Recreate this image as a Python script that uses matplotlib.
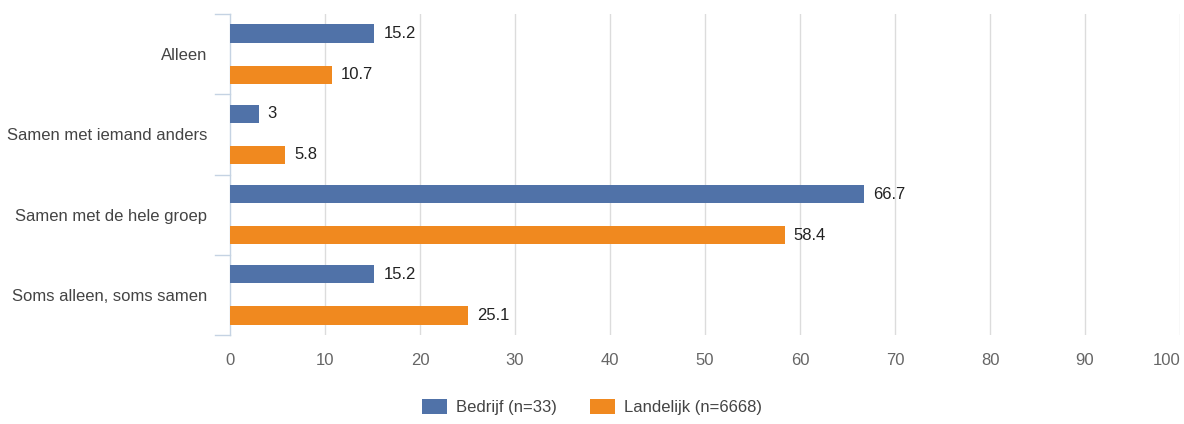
import matplotlib
matplotlib.use("Agg")
import matplotlib.pyplot as plt
import numpy as np

categories = ["Alleen", "Samen met iemand anders", "Samen met de hele groep", "Soms alleen, soms samen"]
bedrijf = [15.2, 3, 66.7, 15.2]
landelijk = [10.7, 5.8, 58.4, 25.1]
series_names = ["Bedrijf (n=33)", "Landelijk (n=6668)"]
xticks = [0, 10, 20, 30, 40, 50, 60, 70, 80, 90, 100]

BLUE = "#5072a8"
ORANGE = "#f0891f"
AXIS = "#c5d3e3"
GRID = "#dcdcdc"

plt.rcParams.update({"font.family": "Liberation Sans", "font.size": 12})

fig = plt.figure(figsize=(11.84, 4.24), dpi=100)
ax = fig.add_axes([230 / 1184, 1 - 335 / 424, (1180 - 230) / 1184, (335 - 14) / 424])

y = np.arange(len(categories))
off = 0.257
h = 0.226
b1 = ax.barh(y - off, bedrijf, h, color=BLUE, label=series_names[0], zorder=3)
b2 = ax.barh(y + off, landelijk, h, color=ORANGE, label=series_names[1], zorder=3)

for bars, vals in ((b1, bedrijf), (b2, landelijk)):
    for bar, v in zip(bars, vals):
        ax.annotate(f"{v:g}", (bar.get_width(), bar.get_y() + bar.get_height() / 2),
                    xytext=(6.5, 0), textcoords="offset points", va="center", ha="left",
                    fontsize=12, color="#222222")

ax.set_xlim(0, 100)
ax.set_ylim(len(categories) - 0.5, -0.5)
ax.set_xticks(xticks)
ax.set_xticklabels([str(t) for t in xticks], color="#666666", fontsize=12)
ax.get_xticklabels()[-1].set_ha("right")
ax.tick_params(axis="x", length=0, pad=13)
for t in xticks[1:]:
    ax.axvline(t, color=GRID, lw=1, zorder=1)

# category labels at centers, tick marks at boundaries
ax.set_yticks(y)
ax.set_yticklabels(categories, color="#444444", fontsize=12)
ax.tick_params(axis="y", length=0, pad=16.5)
for b in np.arange(-0.5, len(categories), 1.0):
    ax.plot([-0.0158, 0], [b, b], color=AXIS, lw=1, transform=ax.get_yaxis_transform(),
            clip_on=False, zorder=2)

for s in ["top", "right", "bottom"]:
    ax.spines[s].set_visible(False)
ax.spines["left"].set_color(AXIS)
ax.spines["left"].set_linewidth(1)

fig.legend(handles=[b1, b2], labels=series_names, loc="center", bbox_to_anchor=(0.5, 1 - 407 / 424),
           ncol=2, frameon=False, handlelength=1.5, handleheight=1.0, columnspacing=2.0,
           handletextpad=0.55, prop={"size": 12}, labelcolor="#444444")

fig.savefig("out.png", dpi=100)
